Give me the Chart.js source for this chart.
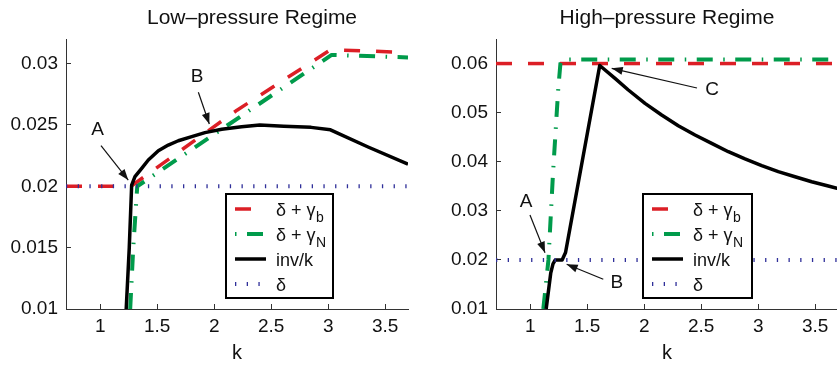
<!DOCTYPE html>
<html><head><meta charset="utf-8">
<script src="https://cdn.jsdelivr.net/npm/chart.js@4/dist/chart.umd.min.js"></script>
<style>
html,body{margin:0;padding:0;background:#fff;overflow:hidden;width:837px;height:367px;}
#wrap{position:relative;width:837px;height:367px;overflow:hidden;background:#fff;}
canvas{position:absolute;top:0;}
#c1{left:0;} #c2{left:420px;}
</style></head><body>
<div id="wrap"><canvas id="c1" width="420" height="367"></canvas><canvas id="c2" width="420" height="367"></canvas></div>
<script>
// ---------- data ----------
const xTicks = [1, 1.5, 2, 2.5, 3, 3.5];
const xTickLabels = ['1', '1.5', '2', '2.5', '3', '3.5'];
const xTitle = 'k';
const legendMain = ['δ + γ', 'δ + γ', 'inv/k', 'δ'];
const legendSub = ['b', 'N', '', ''];

// Low-pressure regime
const lowTitle = 'Low–pressure Regime';
const lowYTicks = [0.01, 0.015, 0.02, 0.025, 0.03];
const lowYTickLabels = ['0.01', '0.015', '0.02', '0.025', '0.03'];
const lowRedK = [0.7, 1.27, 2.2, 3.0, 3.1, 3.7];
const lowRedV = [0.02, 0.02, 0.0262, 0.0310, 0.0311, 0.0309];
const lowGreenK = [1.263, 1.29, 1.325, 3.03, 3.7];
const lowGreenV = [0.01, 0.015, 0.0200, 0.0307, 0.0305];
const lowBlackK = [1.228, 1.255, 1.276, 1.305, 1.364, 1.422, 1.510, 1.597, 1.685, 1.803, 1.919, 2.066, 2.241, 2.40, 2.61, 2.85, 3.02, 3.35, 3.7];
const lowBlackV = [0.01, 0.015, 0.0201, 0.02078, 0.02146, 0.02214, 0.0229, 0.02336, 0.02371, 0.02404, 0.02437, 0.02464, 0.02485, 0.0250, 0.0249, 0.0248, 0.0246, 0.0232, 0.0218];
const lowBlueK = [0.7, 3.7];
const lowBlueV = [0.02, 0.02];
const lowNoteLabels = ['A', 'B'];
const lowNoteAt = [[0.976, 0.02459], [1.849, 0.02890]];
const lowNoteFrom = [[1.007, 0.02331], [1.861, 0.02766]];
const lowNoteTo = [[1.246, 0.02051], [1.957, 0.02507]];

// High-pressure regime
const highTitle = 'High–pressure Regime';
const highYTicks = [0.01, 0.02, 0.03, 0.04, 0.05, 0.06];
const highYTickLabels = ['0.01', '0.02', '0.03', '0.04', '0.05', '0.06'];
const highRedK = [0.7, 3.7];
const highRedV = [0.06, 0.06];
const highGreenK = [1.115, 1.16, 1.20, 1.245, 1.265, 1.28, 3.7];
const highGreenV = [0.01, 0.02, 0.0376, 0.0545, 0.0600, 0.0608, 0.0608];
const highBlackK = [1.14, 1.18, 1.20, 1.22, 1.28, 1.31, 1.61, 1.744, 1.861, 2.007, 2.153, 2.299, 2.446, 2.592, 2.738, 2.884, 3.031, 3.176, 3.323, 3.469, 3.615, 3.7];
const highBlackV = [0.01, 0.0173, 0.0192, 0.0200, 0.0200, 0.0215, 0.0596, 0.05699, 0.05461, 0.0519, 0.04952, 0.04734, 0.04544, 0.04375, 0.04204, 0.04056, 0.03919, 0.03797, 0.03695, 0.03593, 0.03506, 0.03455];
const highBlueK = [0.7, 3.7];
const highBlueV = [0.02, 0.02];
const highNoteLabels = ['C', 'A', 'B'];
const highNoteAt = [[2.595, 0.05461], [0.963, 0.03180], [1.761, 0.01530]];
const highNoteFrom = [[2.463, 0.05502], [0.998, 0.02915], [1.641, 0.01605]];
const highNoteTo = [[1.715, 0.05903], [1.130, 0.02147], [1.320, 0.01911]];

// ---------- styles ----------
const FONT = "'Liberation Sans', Arial, Helvetica, sans-serif";
const STY = [
  { color: '#dc1f26', w: 3.5, dash: [16, 16], legOff: 0, order: 4 },
  { color: '#009b4b', w: 4, dash: [16, 10.5, 1.5, 10.5], legOff: 26.5, order: 3 },
  { color: '#000000', w: 3.5, dash: [], legOff: 0, order: 2 },
  { color: '#30309a', w: 4, dash: [1.3, 10.4], legOff: 0, order: 1 }
];

function arrow(ctx, x1, y1, x2, y2) {
  ctx.beginPath(); ctx.moveTo(x1, y1); ctx.lineTo(x2, y2);
  ctx.lineWidth = 1.2; ctx.strokeStyle = '#111'; ctx.setLineDash([]); ctx.stroke();
  const a = Math.atan2(y2 - y1, x2 - x1), L = 11, W = 4;
  ctx.beginPath(); ctx.moveTo(x2, y2);
  ctx.lineTo(x2 - L * Math.cos(a) + W * Math.sin(a), y2 - L * Math.sin(a) - W * Math.cos(a));
  ctx.lineTo(x2 - L * Math.cos(a) - W * Math.sin(a), y2 - L * Math.sin(a) + W * Math.cos(a));
  ctx.closePath(); ctx.fillStyle = '#111'; ctx.fill();
}

const decor = {
  id: 'decor',
  afterDraw(chart, args, o) {
    const ctx = chart.ctx, xs = chart.scales.x, ys = chart.scales.y;
    ctx.save();
    // title
    ctx.font = '21px ' + FONT; ctx.fillStyle = '#111'; ctx.textAlign = 'center'; ctx.textBaseline = 'alphabetic';
    ctx.fillText(o.title, o.titleX, 24);
    // annotations
    o.labels.forEach((lab, i) => {
      arrow(ctx, xs.getPixelForValue(o.from[i][0]), ys.getPixelForValue(o.from[i][1]),
                 xs.getPixelForValue(o.to[i][0]), ys.getPixelForValue(o.to[i][1]));
      ctx.font = '19px ' + FONT; ctx.fillStyle = '#111'; ctx.textAlign = 'center'; ctx.textBaseline = 'middle';
      ctx.fillText(lab, xs.getPixelForValue(o.at[i][0]), ys.getPixelForValue(o.at[i][1]));
    });
    // legend
    const x0 = o.legX, y0 = o.legY, w = o.legW, h = o.legH;
    ctx.fillStyle = '#fff'; ctx.fillRect(x0, y0, w, h);
    ctx.lineWidth = 2; ctx.strokeStyle = '#000'; ctx.setLineDash([]); ctx.strokeRect(x0, y0, w, h);
    chart.data.datasets.forEach((ds, i) => {
      const ry = y0 + 15 + 25 * i;
      ctx.beginPath(); ctx.moveTo(x0 + 9, ry); ctx.lineTo(x0 + 40, ry);
      ctx.strokeStyle = ds.borderColor; ctx.lineWidth = ds.borderWidth; ctx.lineCap = 'butt';
      ctx.setLineDash(ds.borderDash); ctx.lineDashOffset = STY[i].legOff; ctx.stroke();
      ctx.setLineDash([]); ctx.lineDashOffset = 0;
      ctx.fillStyle = '#111'; ctx.textAlign = 'left'; ctx.textBaseline = 'alphabetic';
      ctx.font = '18px ' + FONT;
      const tx = x0 + 50, by = ry + 7;
      ctx.fillText(legendMain[i], tx, by);
      if (legendSub[i]) {
        const mw = ctx.measureText(legendMain[i]).width;
        ctx.font = '14px ' + FONT;
        ctx.fillText(legendSub[i], tx + mw + 0.5, by + 6);
      }
    });
    ctx.restore();
  }
};

function makeChart(id, series, yTicks, yLabels, yMax, yWidth, padRight, deco) {
  return new Chart(document.getElementById(id), {
    type: 'line',
    data: {
      datasets: series.map((s, i) => ({
        label: legendMain[i] + legendSub[i],
        data: s[0].map((k, j) => ({ x: k, y: s[1][j] })),
        borderColor: STY[i].color, borderWidth: STY[i].w, borderDash: STY[i].dash,
        borderCapStyle: 'butt', borderJoinStyle: 'round',
        pointRadius: 0, tension: 0, fill: false, order: STY[i].order
      }))
    },
    options: {
      responsive: false, animation: false, events: [],
      layout: { padding: { left: 0, right: padRight, top: 39, bottom: 0 } },
      plugins: { legend: { display: false }, tooltip: { enabled: false }, decor: deco },
      scales: {
        x: {
          type: 'linear', min: 0.7, max: 3.7,
          afterBuildTicks: s => { s.ticks = xTicks.map(v => ({ value: v })); },
          afterFit: s => { s.height = 58; },
          ticks: { callback: (v, i) => xTickLabels[i], font: { family: FONT, size: 19 }, color: '#111', padding: 11, maxRotation: 0, autoSkip: false },
          grid: { drawOnChartArea: false, drawTicks: true, tickLength: -5, color: '#333', lineWidth: 1 },
          border: { display: true, color: '#333', width: 1 },
          title: { display: true, text: xTitle, font: { family: FONT, size: 20 }, color: '#111', padding: { top: 0, bottom: 2 } }
        },
        y: {
          type: 'linear', min: 0.01, max: yMax,
          afterBuildTicks: s => { s.ticks = yTicks.map(v => ({ value: v })); },
          afterFit: s => { s.width = yWidth; },
          ticks: { callback: (v, i) => yLabels[i], font: { family: FONT, size: 19 }, color: '#111', padding: 13, autoSkip: false },
          grid: { drawOnChartArea: false, drawTicks: true, tickLength: -5, color: '#333', lineWidth: 1 },
          border: { display: true, color: '#333', width: 1 }
        }
      }
    },
    plugins: [decor]
  });
}

makeChart('c1',
  [[lowRedK, lowRedV], [lowGreenK, lowGreenV], [lowBlackK, lowBlackV], [lowBlueK, lowBlueV]],
  lowYTicks, lowYTickLabels, 0.032, 66, 12,
  { title: lowTitle, titleX: 252, labels: lowNoteLabels, at: lowNoteAt, from: lowNoteFrom, to: lowNoteTo,
    legX: 226, legY: 194, legW: 107, legH: 104 });

makeChart('c2',
  [[highRedK, highRedV], [highGreenK, highGreenV], [highBlackK, highBlackV], [highBlueK, highBlueV]],
  highYTicks, highYTickLabels, 0.065, 76, 2,
  { title: highTitle, titleX: 247, labels: highNoteLabels, at: highNoteAt, from: highNoteFrom, to: highNoteTo,
    legX: 223, legY: 194, legW: 109, legH: 104 });
</script>
</body></html>
